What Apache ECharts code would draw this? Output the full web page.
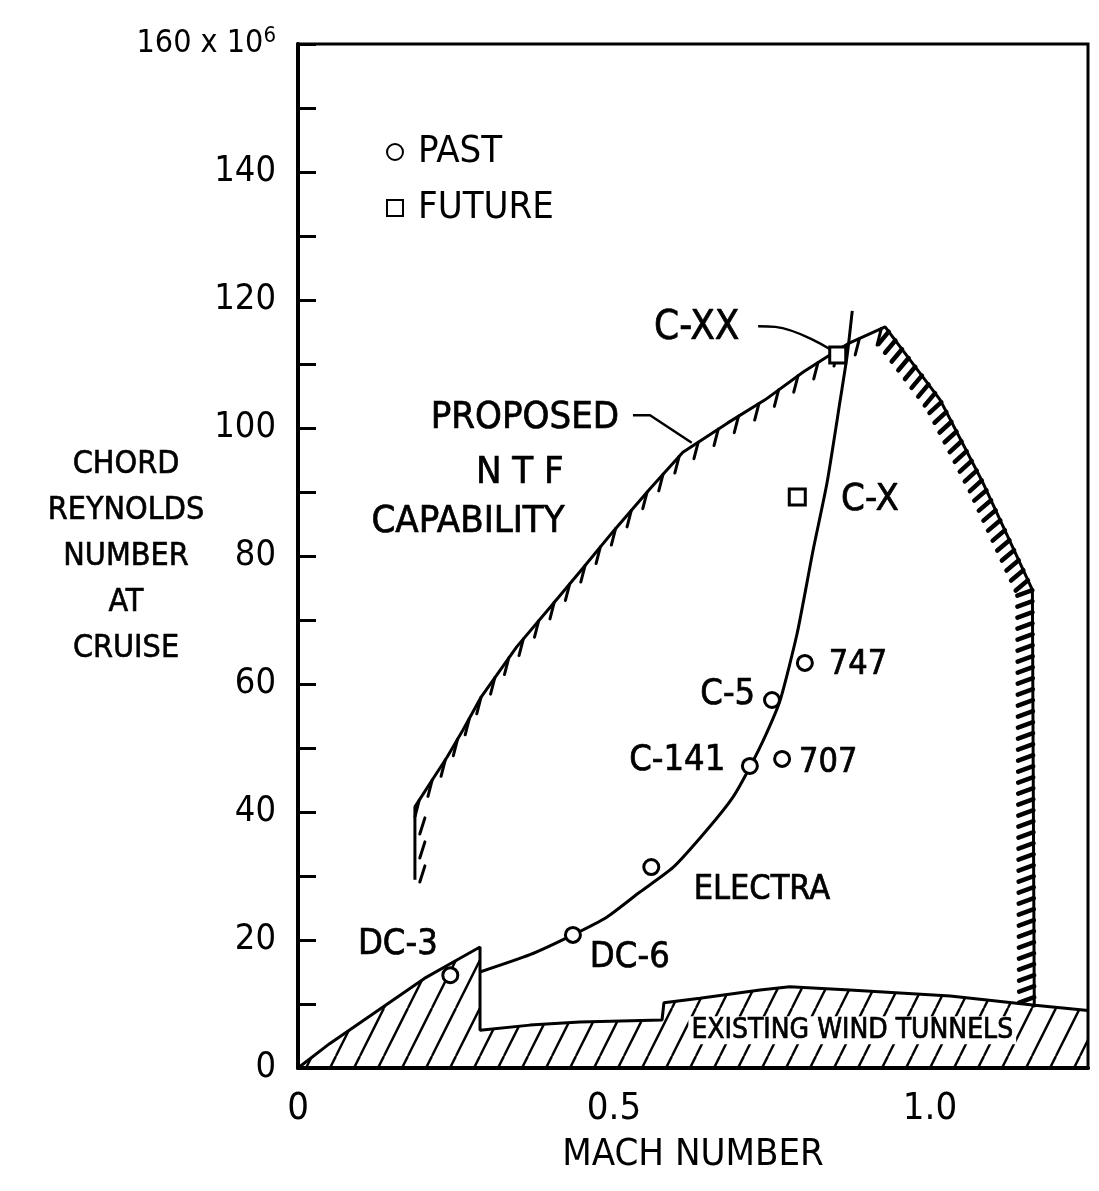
<!DOCTYPE html>
<html>
<head>
<meta charset="utf-8">
<script src="https://cdn.jsdelivr.net/npm/echarts@6/dist/echarts.min.js"></script>
<style>
html,body{margin:0;padding:0;background:#fff;}
#chart{width:1099px;height:1191px;}
</style>
</head>
<body>
<div id="chart"></div>
<script>
// axis ticks
var xTickValues = [0, 0.5, 1.0];
var xTickLabels = ['0', '0.5', '1.0'];
var yLabelValues = [0, 20, 40, 60, 80, 100, 120, 140, 160];
var yLabelTexts = ['0', '20', '40', '60', '80', '100', '120', '140', '160'];
var yTitle = ['CHORD', 'REYNOLDS', 'NUMBER', 'AT', 'CRUISE'];

// existing wind tunnels envelope (incl. DC-3 era)
var tunnelX = [0, 0.05, 0.1, 0.15, 0.2, 0.25, 0.288, 0.288, 0.367, 0.446, 0.576, 0.579, 0.636, 0.731, 0.778, 0.873, 1.032, 1.166, 1.25];
var tunnelY = [0, 3.8, 7.2, 10.6, 14, 16.8, 18.9, 5.9, 6.7, 7.2, 7.5, 10.2, 10.9, 12.2, 12.7, 12.2, 11.25, 9.8, 9.0];

// proposed NTF capability boundary
var ntfX = [0.185, 0.185, 0.209, 0.236, 0.261, 0.29, 0.346, 0.399, 0.45, 0.5, 0.557, 0.609, 0.68, 0.739, 0.8, 0.854, 0.873, 0.929, 1.016, 1.084, 1.162, 1.165];
var ntfY = [29.4, 40.8, 44.5, 48.6, 52.8, 58, 65.8, 72, 78, 84, 90.5, 96.2, 100.8, 104.4, 108.8, 112.2, 113.3, 115.8, 104.4, 91.4, 74.7, 9.5];

// aircraft trend line
var trendX = [0.288, 0.367, 0.435, 0.489, 0.541, 0.593, 0.647, 0.688, 0.715, 0.74, 0.763, 0.79, 0.815, 0.837, 0.858, 0.869, 0.877];
var trendY = [15, 17.7, 20.8, 23.6, 27.5, 31.3, 37.2, 42.3, 47, 52, 57.5, 68, 80.9, 91.4, 104.4, 111.4, 118.3];

// aircraft
var pastNames = ['DC-3', 'DC-6', 'ELECTRA', 'C-141', '707', 'C-5', '747'];
var pastX = [0.241, 0.435, 0.559, 0.715, 0.766, 0.75, 0.802];
var pastY = [14.5, 20.8, 31.4, 47.2, 48.3, 57.5, 63.3];
var futureNames = ['C-X', 'C-XX'];
var futureX = [0.79, 0.854];
var futureY = [89.2, 111.4];

// leader lines
var leaderCXXX = [0.728, 0.755, 0.842];
var leaderCXXY = [115.9, 115.8, 112.3];
var leaderNtfX = [0.53, 0.557, 0.623];
var leaderNtfY = [102, 102, 97.7];

// text notes (label placement)
var notes = [
    {text: 'C-XX', at: [0.631, 115.6], size: 40},
    {text: 'PROPOSED', at: [0.359, 101.6], size: 38},
    {text: 'N T F', at: [0.351, 93], size: 38},
    {text: 'CAPABILITY', at: [0.269, 85.3], size: 38},
    {text: 'C-X', at: [0.905, 88.75], size: 38},
    {text: '747', at: [0.886, 63], size: 34},
    {text: 'C-5', at: [0.68, 58.3], size: 36},
    {text: 'C-141', at: [0.6, 48.1], size: 36},
    {text: '707', at: [0.839, 47.7], size: 34},
    {text: 'ELECTRA', at: [0.734, 27.8], size: 34},
    {text: 'DC-6', at: [0.525, 17.2], size: 36},
    {text: 'DC-3', at: [0.158, 19.2], size: 36},
    {text: 'EXISTING WIND TUNNELS', at: [0.877, 5.9], size: 28, box: true}
];

var FONT = "'Liberation Sans Narrow', 'DejaVu Sans Condensed', 'Noto Sans', sans-serif";

function pairs(xs, ys) {
    return xs.map(function (x, i) { return [x, ys[i]]; });
}

function hatchPattern() {
    var s = 24, h = s * 2;
    var c = document.createElement('canvas');
    c.width = s; c.height = h;
    var ctx = c.getContext('2d');
    ctx.strokeStyle = '#000';
    ctx.lineWidth = 2.4;
    [-s, 0, s].forEach(function (x0) {
        ctx.beginPath();
        ctx.moveTo(x0, h);
        ctx.lineTo(x0 + s, 0);
        ctx.stroke();
    });
    return c;
}

// short hatch strokes along a boundary
function hatch(xs, ys, opt) {
    return function (params, api) {
        if (params.dataIndex !== 0) return;
        var pts = xs.map(function (x, i) { return api.coord([x, ys[i]]); });
        var kids = [];
        var carry = opt.start;
        for (var i = 0; i < pts.length - 1; i++) {
            var dx = pts[i + 1][0] - pts[i][0], dy = pts[i + 1][1] - pts[i][1];
            var len = Math.hypot(dx, dy);
            if (!len) continue;
            var tx = dx / len, ty = dy / len;
            var d = carry;
            while (d < len) {
                var px = pts[i][0] + tx * d, py = pts[i][1] + ty * d;
                var vx, vy;
                if (opt.dir) { vx = opt.dir[0]; vy = opt.dir[1]; }
                else { vx = -ty + opt.bias[0]; vy = tx + opt.bias[1]; }
                var vl = Math.hypot(vx, vy); vx /= vl; vy /= vl;
                var ox = -ty * opt.offset, oy = tx * opt.offset;
                kids.push({
                    type: 'line',
                    shape: {x1: px + ox, y1: py + oy, x2: px + ox + vx * opt.length, y2: py + oy + vy * opt.length},
                    style: {stroke: '#000', lineWidth: opt.width, lineCap: 'round'}
                });
                d += opt.spacing;
            }
            carry = d - len;
        }
        return {type: 'group', children: kids};
    };
}

var peak = ntfY.indexOf(Math.max.apply(null, ntfY));

var chart = echarts.init(document.getElementById('chart'));
var option = {
    backgroundColor: '#fff',
    animation: false,
    textStyle: {fontFamily: FONT, color: '#000'},
    grid: {left: 298, right: 11, top: 44, bottom: 123, show: true, borderColor: '#000', borderWidth: 3,
        containLabel: false, outerBoundsMode: 'none'},
    graphic: [{
        type: 'text', x: 126, y: 557, silent: true,
        style: {
            text: yTitle.join('\n'), fill: '#000', stroke: '#000', lineWidth: 0.6,
            font: '32px ' + FONT, align: 'center', verticalAlign: 'middle', lineHeight: 46
        }
    }],
    legend: {
        data: ['PAST', 'FUTURE'],
        orient: 'vertical',
        left: 381, top: 128,
        itemWidth: 16, itemHeight: 16, itemGap: 18,
        textStyle: {fontFamily: FONT, fontSize: 38, color: '#000', padding: [0, 0, 0, 10]}
    },
    xAxis: {
        type: 'value', min: 0, max: 1.25, interval: 0.5,
        name: 'MACH NUMBER', nameLocation: 'middle', nameGap: 87,
        nameTextStyle: {fontFamily: FONT, fontSize: 38, color: '#000', verticalAlign: 'middle'},
        axisLine: {lineStyle: {color: '#000', width: 4}},
        axisTick: {show: false},
        splitLine: {show: false},
        axisLabel: {
            fontFamily: FONT, fontSize: 38, color: '#000', margin: 22, showMaxLabel: false,
            formatter: function (v) {
                var i = xTickValues.indexOf(v);
                return i < 0 ? '' : xTickLabels[i];
            }
        }
    },
    yAxis: {
        type: 'value', min: 0, max: 160, interval: 10,
        axisLine: {lineStyle: {color: '#000', width: 4}},
        axisTick: {inside: true, length: 18, lineStyle: {color: '#000', width: 3}},
        splitLine: {show: false},
        axisLabel: {
            fontFamily: FONT, fontSize: 36, color: '#000', margin: 22,
            formatter: function (v) {
                var i = yLabelValues.indexOf(v);
                if (i < 0) return '';
                if (v === 160) return '{n|' + yLabelTexts[i] + ' x 10}{s|6}';
                return yLabelTexts[i];
            },
            rich: {
                n: {fontFamily: FONT, fontSize: 32, color: '#000'},
                s: {fontFamily: FONT, fontSize: 22, color: '#000', verticalAlign: 'top', padding: [0, 0, 16, 0]}
            }
        }
    },
    series: [
        {
            name: 'EXISTING WIND TUNNELS', type: 'line', data: pairs(tunnelX, tunnelY),
            symbol: 'none', lineStyle: {color: '#000', width: 3},
            areaStyle: {color: {image: hatchPattern(), repeat: 'repeat'}, opacity: 1},
            z: 2
        },
        {
            name: 'NTF', type: 'line', data: pairs(ntfX, ntfY),
            symbol: 'none', lineStyle: {color: '#000', width: 3}, z: 3
        },
        {
            name: 'NTF stub hatch', type: 'custom', data: [[ntfX[0], ntfY[0]]], silent: true, z: 3,
            renderItem: hatch(ntfX.slice(0, 2), ntfY.slice(0, 2),
                {start: 14, spacing: 24, length: 17, width: 3, offset: 10, dir: [-0.3, 0.95]})
        },
        {
            name: 'NTF hatch', type: 'custom', data: [[ntfX[1], ntfY[1]]], silent: true, z: 3,
            renderItem: hatch(ntfX.slice(1, peak + 1), ntfY.slice(1, peak + 1),
                {start: 8, spacing: 24, length: 17, width: 3, offset: 0, dir: [-0.25, 0.97]})
        },
        {
            name: 'NTF edge hatch', type: 'custom', data: [[ntfX[peak], ntfY[peak]]], silent: true, z: 3,
            renderItem: hatch(ntfX.slice(peak), ntfY.slice(peak),
                {start: 6, spacing: 11, length: 16, width: 4.5, offset: 0, bias: [0, 0.35]})
        },
        {
            name: 'trend', type: 'line', data: pairs(trendX, trendY), smooth: 0.2,
            symbol: 'none', lineStyle: {color: '#000', width: 3}, z: 3
        },
        {
            name: 'leader C-XX', type: 'line', data: pairs(leaderCXXX, leaderCXXY), smooth: 0.4,
            symbol: 'none', lineStyle: {color: '#000', width: 2.5}, z: 3
        },
        {
            name: 'leader NTF', type: 'line', data: pairs(leaderNtfX, leaderNtfY),
            symbol: 'none', lineStyle: {color: '#000', width: 2.5}, z: 3
        },
        {
            name: 'PAST', type: 'scatter', symbol: 'circle', symbolSize: 15,
            itemStyle: {color: '#fff', borderColor: '#000', borderWidth: 3, opacity: 1},
            data: pastNames.map(function (n, i) { return {name: n, value: [pastX[i], pastY[i]]}; }),
            z: 5
        },
        {
            name: 'FUTURE', type: 'scatter', symbol: 'rect', symbolSize: 16,
            itemStyle: {color: '#fff', borderColor: '#000', borderWidth: 3, opacity: 1},
            data: futureNames.map(function (n, i) { return {name: n, value: [futureX[i], futureY[i]]}; }),
            z: 5
        },
        {
            name: 'notes', type: 'custom', silent: true, z: 6,
            data: notes.map(function (n) { return n.at; }),
            renderItem: function (params, api) {
                var n = notes[params.dataIndex];
                var p = api.coord(n.at);
                return {
                    type: 'text', x: p[0], y: p[1],
                    style: {
                        text: n.text, fill: '#000', align: 'center', verticalAlign: 'middle',
                        font: n.size + 'px ' + FONT,
                        stroke: '#000', lineWidth: 0.7,
                        backgroundColor: n.box ? '#fff' : null, padding: n.box ? [0, 3] : 0
                    }
                };
            }
        }
    ]
};
chart.setOption(option);
</script>
</body>
</html>
